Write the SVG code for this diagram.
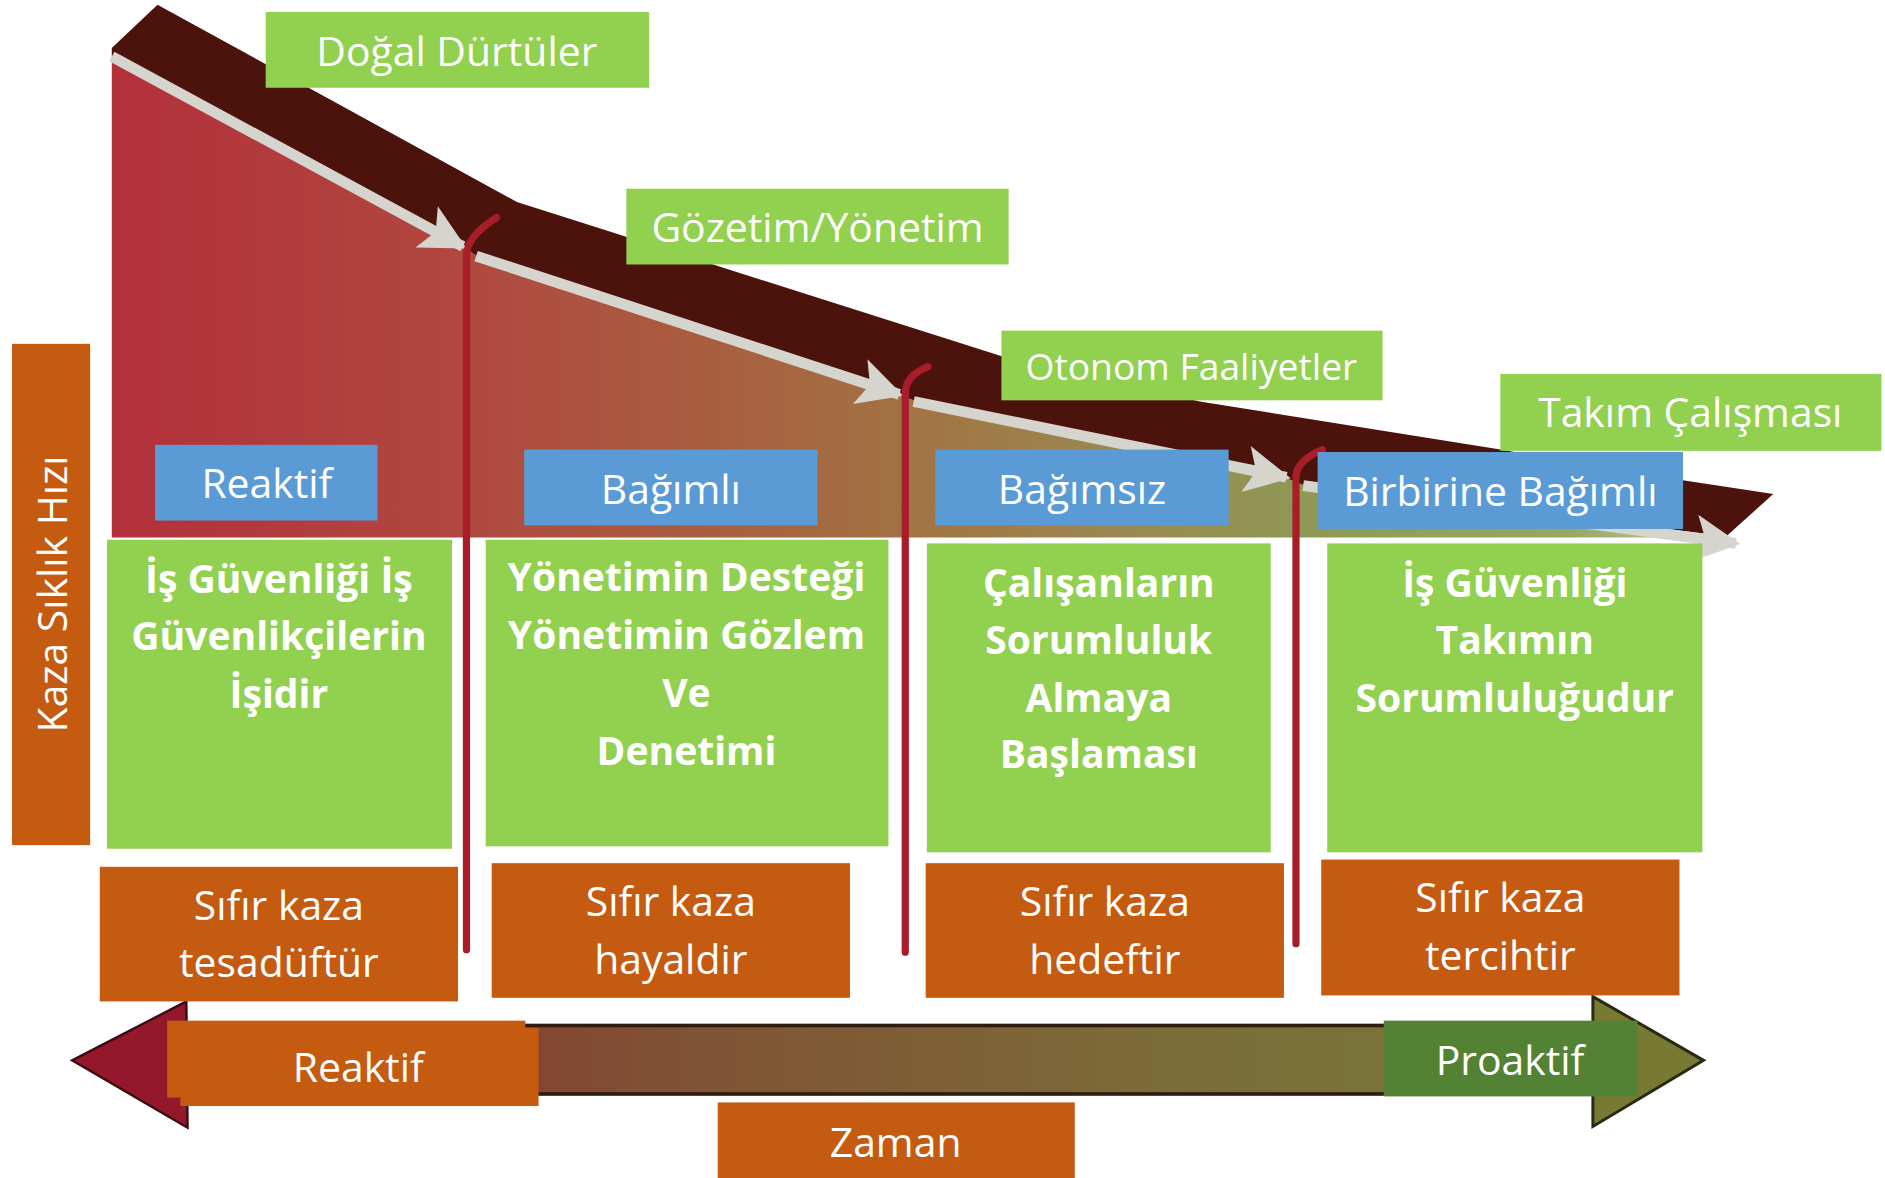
<svg xmlns="http://www.w3.org/2000/svg" width="1885" height="1178" viewBox="0 0 1885 1178">
<style>
.t{font-family:"Open Sans","Noto Sans","DejaVu Sans",sans-serif;fill:#ffffff;text-anchor:middle;font-size:34px}
.b{font-weight:bold;font-size:32.5px}
.g{fill:#92d050}
.bl{fill:#5b9bd5}
.o{fill:#c55a11}
.dg{fill:#548235}
.gray{stroke:#d5d5ce;stroke-width:9;fill:none}
.red{stroke:#a91d2b;stroke-width:6;fill:none;stroke-linecap:round}
</style>
<defs>
<linearGradient id="fillGrad" x1="93" y1="0" x2="1440" y2="0" gradientUnits="userSpaceOnUse">
<stop offset="0" stop-color="#b3303b"/>
<stop offset="0.22" stop-color="#b04840"/>
<stop offset="0.38" stop-color="#a8603f"/>
<stop offset="0.5" stop-color="#a27444"/>
<stop offset="0.62" stop-color="#9a8850"/>
<stop offset="0.75" stop-color="#8e9a55"/>
<stop offset="0.9" stop-color="#96a862"/>
<stop offset="1" stop-color="#c8d0b0"/>
</linearGradient>
<linearGradient id="barGrad" x1="155" y1="0" x2="1325" y2="0" gradientUnits="userSpaceOnUse">
<stop offset="0" stop-color="#8c2a2e"/>
<stop offset="0.35" stop-color="#805234"/>
<stop offset="0.7" stop-color="#7b6c38"/>
<stop offset="1" stop-color="#787a3a"/>
</linearGradient>
<marker id="gh" markerUnits="userSpaceOnUse" markerWidth="44" markerHeight="44" viewBox="-32 -17 36 34" refX="0" refY="0" orient="auto">
<path d="M3,0 L-28,-16 L-21,0 L-28,16 Z" fill="#d5d5ce"/>
</marker>
</defs>
<rect width="1885" height="1178" fill="#ffffff"/>
<g transform="scale(1.2022)">
<g id="curve">
<polygon points="93,47 385,205 395,212 747,328 760,333 1068,397 1083,403 1425,447 93,447" fill="url(#fillGrad)"/>
<polygon points="93,40 131,4 430,168 832,296 998,334 1248,374 1397,399 1475,411 1436,446 1083,403 1068,397 760,333 747,328 395,212 385,205 93,47" fill="#4c130d"/>
</g>
<g id="connectors">
<line class="gray" x1="93" y1="47" x2="385" y2="205" marker-end="url(#gh)"/>
<line class="gray" x1="396" y1="213" x2="748" y2="328" marker-end="url(#gh)"/>
<line class="gray" x1="760" y1="334" x2="1070" y2="397" marker-end="url(#gh)"/>
<line class="gray" x1="1084" y1="404" x2="1444" y2="452" marker-end="url(#gh)"/>
<path class="red" d="M388,790 L388,212 Q389,196 413,181"/>
<path class="red" d="M753,792 L753,326 Q754,312 772,305"/>
<path class="red" d="M1078,785 L1078,396 Q1079,383 1100,374"/>
<polygon points="155,833 60,882 156,938" fill="#94182b" stroke="#3a0c12" stroke-width="2"/>
<rect x="150" y="853" width="1178" height="57" fill="url(#barGrad)" stroke="#2e1c10" stroke-width="3"/>
<polygon points="1325,829 1417,882 1325,937" fill="#787a34" stroke="#2a2a14" stroke-width="2.5"/>
</g>
<g id="n-axis-y">
<rect x="10" y="286" width="65" height="417" class="o"/>
<text class="t" transform="translate(56,494) rotate(-90)" style="font-size:34px">Kaza Sıklık Hızı</text>
</g>
<g id="n-dogal">
<rect x="221" y="10" width="319" height="63" class="g"/>
<text class="t" x="380" y="55">Doğal Dürtüler</text>
</g>
<g id="n-gozetim">
<rect x="521" y="157" width="318" height="63" class="g"/>
<text class="t" x="680" y="201">Gözetim/Yönetim</text>
</g>
<g id="n-otonom">
<rect x="833" y="275" width="317" height="58" class="g"/>
<text class="t" x="991" y="316" style="font-size:31px">Otonom Faaliyetler</text>
</g>
<g id="n-takim">
<rect x="1248" y="311" width="317" height="64" class="g"/>
<text class="t" x="1406" y="355">Takım Çalışması</text>
</g>
<g id="n-reaktif-blue">
<rect x="129" y="370" width="185" height="63" class="bl"/>
<text class="t" x="222" y="414">Reaktif</text>
</g>
<g id="n-bagimli">
<rect x="436" y="374" width="244" height="63" class="bl"/>
<text class="t" x="558" y="419">Bağımlı</text>
</g>
<g id="n-bagimsiz">
<rect x="778" y="374" width="244" height="63" class="bl"/>
<text class="t" x="900" y="419">Bağımsız</text>
</g>
<g id="n-birbirine">
<rect x="1096" y="376" width="304" height="64" class="bl"/>
<text class="t" x="1248" y="421">Birbirine Bağımlı</text>
</g>
<g id="n-content1">
<rect x="89" y="449" width="287" height="257" class="g"/>
<text class="t b" x="232" y="493">İş Güvenliği İş</text>
<text class="t b" x="232" y="541">Güvenlikçilerin</text>
<text class="t b" x="232" y="589">İşidir</text>
</g>
<g id="n-content2">
<rect x="404" y="449" width="335" height="255" class="g"/>
<text class="t b" x="571" y="492">Yönetimin Desteği</text>
<text class="t b" x="571" y="540">Yönetimin Gözlem</text>
<text class="t b" x="571" y="588">Ve</text>
<text class="t b" x="571" y="636">Denetimi</text>
</g>
<g id="n-content3">
<rect x="771" y="452" width="286" height="257" class="g"/>
<text class="t b" x="914" y="497">Çalışanların</text>
<text class="t b" x="914" y="544">Sorumluluk</text>
<text class="t b" x="914" y="592">Almaya</text>
<text class="t b" x="914" y="639">Başlaması</text>
</g>
<g id="n-content4">
<rect x="1104" y="452" width="312" height="257" class="g"/>
<text class="t b" x="1260" y="497">İş Güvenliği</text>
<text class="t b" x="1260" y="544">Takımın</text>
<text class="t b" x="1260" y="592">Sorumluluğudur</text>
</g>
<g id="n-sifir1">
<rect x="83" y="721" width="298" height="112" class="o"/>
<text class="t" x="232" y="765">Sıfır kaza</text>
<text class="t" x="232" y="813">tesadüftür</text>
</g>
<g id="n-sifir2">
<rect x="409" y="718" width="298" height="112" class="o"/>
<text class="t" x="558" y="762">Sıfır kaza</text>
<text class="t" x="558" y="810">hayaldir</text>
</g>
<g id="n-sifir3">
<rect x="770" y="718" width="298" height="112" class="o"/>
<text class="t" x="919" y="762">Sıfır kaza</text>
<text class="t" x="919" y="810">hedeftir</text>
</g>
<g id="n-sifir4">
<rect x="1099" y="715" width="298" height="113" class="o"/>
<text class="t" x="1248" y="759">Sıfır kaza</text>
<text class="t" x="1248" y="807">tercihtir</text>
</g>
<g id="n-reaktif-bottom">
<rect x="139" y="849" width="298" height="64" class="o"/>
<rect x="150" y="855" width="298" height="65" class="o"/>
<text class="t" x="298" y="900">Reaktif</text>
</g>
<g id="n-proaktif">
<rect x="1151" y="849" width="211" height="63" class="dg"/>
<text class="t" x="1256" y="894">Proaktif</text>
</g>
<g id="n-zaman">
<rect x="597" y="917" width="297" height="63" class="o"/>
<text class="t" x="745" y="962">Zaman</text>
</g>
</g>
</svg>
